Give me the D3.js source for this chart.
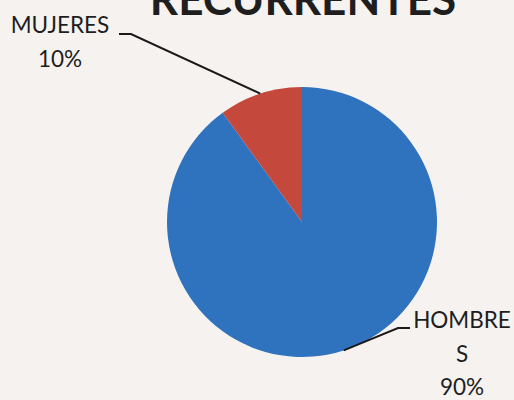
<!DOCTYPE html>
<html>
<head>
<meta charset="utf-8">
<script src="https://cdn.jsdelivr.net/npm/d3@7"></script>
<style>
  body { margin: 0; background: #f6f2f0; }
  svg { display: block; }
  text { font-family: Lato, "Open Sans", sans-serif; fill: #1e1e1e; }
</style>
</head>
<body>
<svg id="chart" width="514" height="400"></svg>
<script>
const categories = ["HOMBRES", "MUJERES"]
const values = [90, 10]
const colors = ["#2f72bd", "#c4493c"]

const width = 514
const height = 400
const cx = 302
const cy = 222
const radius = 135

const svg = d3.select("#chart")

svg.append("rect")
  .attr("width", width)
  .attr("height", height)
  .attr("fill", "#f6f2f0")

// title, cut off at the top like the scan
svg.append("text")
  .attr("x", 303)
  .attr("y", 15)
  .attr("text-anchor", "middle")
  .attr("font-size", 44)
  .attr("font-weight", "bold")
  .text("RECURRENTES")

const data = categories.map((c, i) => ({ name: c, value: values[i], color: colors[i] }))

// HOMBRES starts at 12 o'clock and goes clockwise
const pie = d3.pie().sort(null).value(d => d.value)
const arcs = pie(data)
const arc = d3.arc().innerRadius(0).outerRadius(radius)

const g = svg.append("g").attr("transform", `translate(${cx},${cy})`)

g.selectAll("path")
  .data(arcs)
  .join("path")
  .attr("d", arc)
  .attr("fill", d => d.data.color)

// leader lines + labels
function edgePoint(d) {
  const a = (d.startAngle + d.endAngle) / 2
  return [cx + radius * Math.sin(a), cy - radius * Math.cos(a)]
}

const labels = [
  { lines: ["HOMBRE", "S", "90%"], x: 462, y: 328, step: 33.5, elbow: [[398, 328], [410, 328]] },
  { lines: ["MUJERES", "10%"], x: 60, y: 33, step: 34, elbow: [[131, 34], [119, 34]] }
]

arcs.forEach((d, i) => {
  const lab = labels[i]
  const p = edgePoint(d)
  const pts = [p].concat(lab.elbow)
  svg.append("path")
    .attr("d", d3.line()(pts))
    .attr("fill", "none")
    .attr("stroke", "#1a1a1a")
    .attr("stroke-width", 2)

  const t = svg.append("text")
    .attr("text-anchor", "middle")
    .attr("font-size", 22.5)
  lab.lines.forEach((ln, k) => {
    t.append("tspan")
      .attr("x", lab.x)
      .attr("y", lab.y + k * lab.step)
      .text(ln)
  })
})
</script>
</body>
</html>
